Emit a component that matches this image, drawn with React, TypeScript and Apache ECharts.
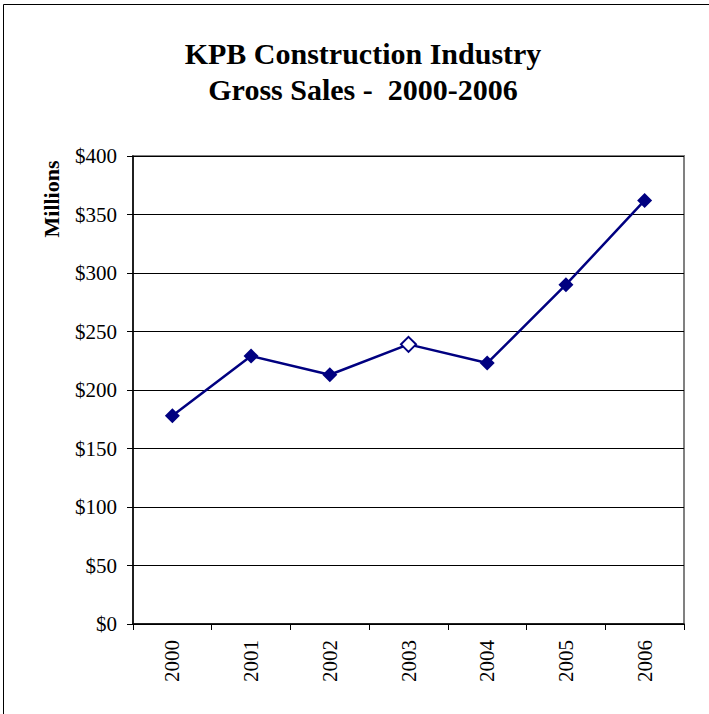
import React, { useEffect, useRef } from "react";
import * as echarts from "echarts";

const years = ["2000", "2001", "2002", "2003", "2004", "2005", "2006"];
const grossSales = [178, 229, 213, 239, 223, 290, 362];
const hollowYears = ["2003"];
const titleLines = ["KPB Construction Industry", "Gross Sales -  2000-2006"];
const yAxisTitle = "Millions";

const NAVY = "#000080";
const SERIF = "'Liberation Serif', 'Times New Roman', serif";

export default function App() {
  const ref = useRef<HTMLDivElement>(null);
  useEffect(() => {
    if (!ref.current) return;
    const chart = echarts.init(ref.current, undefined, { renderer: "svg" });
    const seriesData = grossSales.map((v, i) =>
      hollowYears.includes(years[i])
        ? { value: v, itemStyle: { color: "#ffffff", borderColor: NAVY, borderWidth: 2 } }
        : { value: v }
    );
    chart.setOption({
      animation: false,
      backgroundColor: "#ffffff",
      title: {
        text: titleLines.join("\n"),
        left: 358,
        textAlign: "center",
        top: 30,
        textStyle: {
          fontFamily: SERIF,
          fontSize: 30,
          fontWeight: "bold",
          color: "#000",
          lineHeight: 36,
        },
      },
      grid: {
        left: 133,
        right: 25,
        top: 156,
        bottom: 90,
        show: true,
        borderColor: "#808080",
        borderWidth: 2,
        backgroundColor: "#ffffff",
      },
      xAxis: {
        type: "category",
        data: years,
        boundaryGap: true,
        axisLine: { lineStyle: { color: "#000", width: 1.5 } },
        axisTick: { show: true, inside: false, length: 6, alignWithLabel: false, lineStyle: { color: "#000" } },
        axisLabel: {
          rotate: 90,
          margin: 16,
          fontFamily: SERIF,
          fontSize: 21,
          color: "#000",
        },
        splitLine: { show: false },
      },
      yAxis: {
        type: "value",
        min: 0,
        max: 400,
        interval: 50,
        axisLine: { show: true, lineStyle: { color: "#000", width: 1.5 } },
        axisTick: { show: true, inside: false, length: 6, lineStyle: { color: "#000" } },
        axisLabel: {
          formatter: (v: number) => "$" + v,
          margin: 16,
          fontFamily: SERIF,
          fontSize: 21,
          color: "#000",
        },
        splitLine: { show: true, lineStyle: { color: "#000", width: 1 } },
      },
      series: [
        {
          type: "line",
          data: seriesData,
          symbol: "diamond",
          symbolSize: 15,
          lineStyle: { color: NAVY, width: 2.5 },
          itemStyle: { color: NAVY },
        },
      ],
      graphic: [
        {
          type: "rect",
          shape: { x: 3.5, y: 4.5, width: 730, height: 730 },
          style: { fill: "none", stroke: "#000", lineWidth: 1 },
          silent: true,
        },
        {
          type: "text",
          x: 51,
          y: 199,
          rotation: Math.PI / 2,
          style: {
            text: yAxisTitle,
            fontFamily: SERIF,
            fontSize: 22,
            fontWeight: "bold",
            fill: "#000",
            align: "center",
            verticalAlign: "middle",
          },
        },
      ],
    });
    return () => chart.dispose();
  }, []);
  return (
    <div
      ref={ref}
      style={{ position: "fixed", left: 0, top: 0, width: 709, height: 714 }}
    />
  );
}
